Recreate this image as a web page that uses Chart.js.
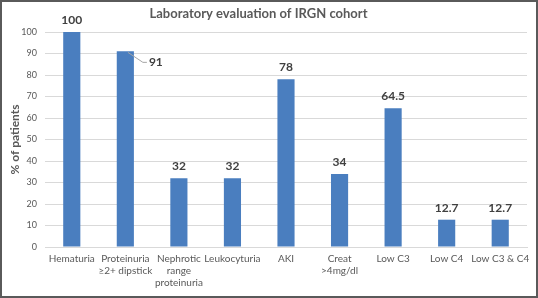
<!DOCTYPE html>
<html>
<head>
<meta charset="utf-8">
<script src="https://cdn.jsdelivr.net/npm/chart.js@4"></script>
<style>
  html, body { margin: 0; padding: 0; background: #fff; }
  #wrap { width: 534px; height: 294px; border: 2px solid #5a5a5a; background: #fff; }
  canvas { display: block; }
</style>
</head>
<body>
<div id="wrap"><canvas id="c" width="534" height="294"></canvas></div>
<script>
const chartTitle = "Laboratory evaluation of IRGN cohort";
const yAxisTitle = "% of patients";
const categories = [
  ["Hematuria"],
  ["Proteinuria", "≥2+ dipstick"],
  ["Nephrotic", "range", "proteinuria"],
  ["Leukocyturia"],
  ["AKI"],
  ["Creat", ">4mg/dl"],
  ["Low C3"],
  ["Low C4"],
  ["Low C3 & C4"]
];
const values = [100, 91, 32, 32, 78, 34, 64.5, 12.7, 12.7];
const valueLabels = ["100", "91", "32", "32", "78", "34", "64.5", "12.7", "12.7"];
const yMin = 0, yMax = 100, yStep = 10;

const FONT = "Lato, 'Open Sans', sans-serif";

const labelPlugin = {
  id: 'valueLabels',
  afterDatasetsDraw(chart) {
    const ctx = chart.ctx;
    const meta = chart.getDatasetMeta(0);
    ctx.save();
    ctx.font = "bold 12px " + FONT;
    ctx.fillStyle = "#404040";
    ctx.textAlign = "center";
    ctx.textBaseline = "alphabetic";
    meta.data.forEach((bar, i) => {
      const txt = valueLabels[i];
      if (i === 1) {
        // callout label with leader line
        const x0 = bar.x + bar.width / 2 - 6, y0 = bar.y + 1;
        ctx.strokeStyle = "#a6a6a6";
        ctx.lineWidth = 1;
        ctx.beginPath();
        ctx.moveTo(x0, y0);
        ctx.lineTo(x0 + 15, y0 + 10);
        ctx.lineTo(x0 + 19, y0 + 10);
        ctx.stroke();
        ctx.textAlign = "left";
        ctx.fillText(txt, x0 + 21, y0 + 14);
        ctx.textAlign = "center";
      } else {
        ctx.fillText(txt, bar.x, bar.y - 8);
      }
    });
    ctx.restore();
  }
};

const titlePlugin = {
  id: 'customTitle',
  afterDraw(chart) {
    const ctx = chart.ctx;
    ctx.save();
    ctx.font = "bold 13px " + FONT;
    ctx.fillStyle = "#595959";
    ctx.textAlign = "center";
    ctx.textBaseline = "middle";
    ctx.fillText(chartTitle, 256.5, 12);
    ctx.restore();
  }
};

new Chart(document.getElementById('c'), {
  type: 'bar',
  data: {
    labels: categories,
    datasets: [{
      data: values,
      backgroundColor: "#4a7ebf",
      borderWidth: 0,
      barPercentage: 0.32,
      categoryPercentage: 1.0
    }]
  },
  options: {
    responsive: false,
    animation: false,
    layout: { padding: { top: 30, right: 9, left: 0, bottom: 0 } },
    plugins: {
      legend: { display: false },
      title: { display: false },
      tooltip: { enabled: false }
    },
    scales: {
      x: {
        grid: { display: false, drawTicks: false },
        border: { display: true, color: "#d9d9d9" },
        ticks: {
          color: "#595959",
          font: { family: FONT, size: 10 },
          padding: 6,
          maxRotation: 0,
          autoSkip: false
        },
        afterFit(scale) { scale.height = 49; }
      },
      y: {
        min: yMin, max: yMax,
        grid: { color: "#d9d9d9", drawTicks: false },
        border: { display: false },
        ticks: {
          stepSize: yStep,
          color: "#595959",
          font: { family: FONT, size: 9 },
          padding: 8
        },
        title: {
          display: true,
          text: yAxisTitle,
          color: "#595959",
          font: { family: FONT, size: 12, weight: 'bold' },
          padding: { top: 6, bottom: 0 }
        },
        afterFit(scale) { scale.width = 43; }
      }
    }
  },
  plugins: [labelPlugin, titlePlugin]
});
</script>
</body>
</html>
